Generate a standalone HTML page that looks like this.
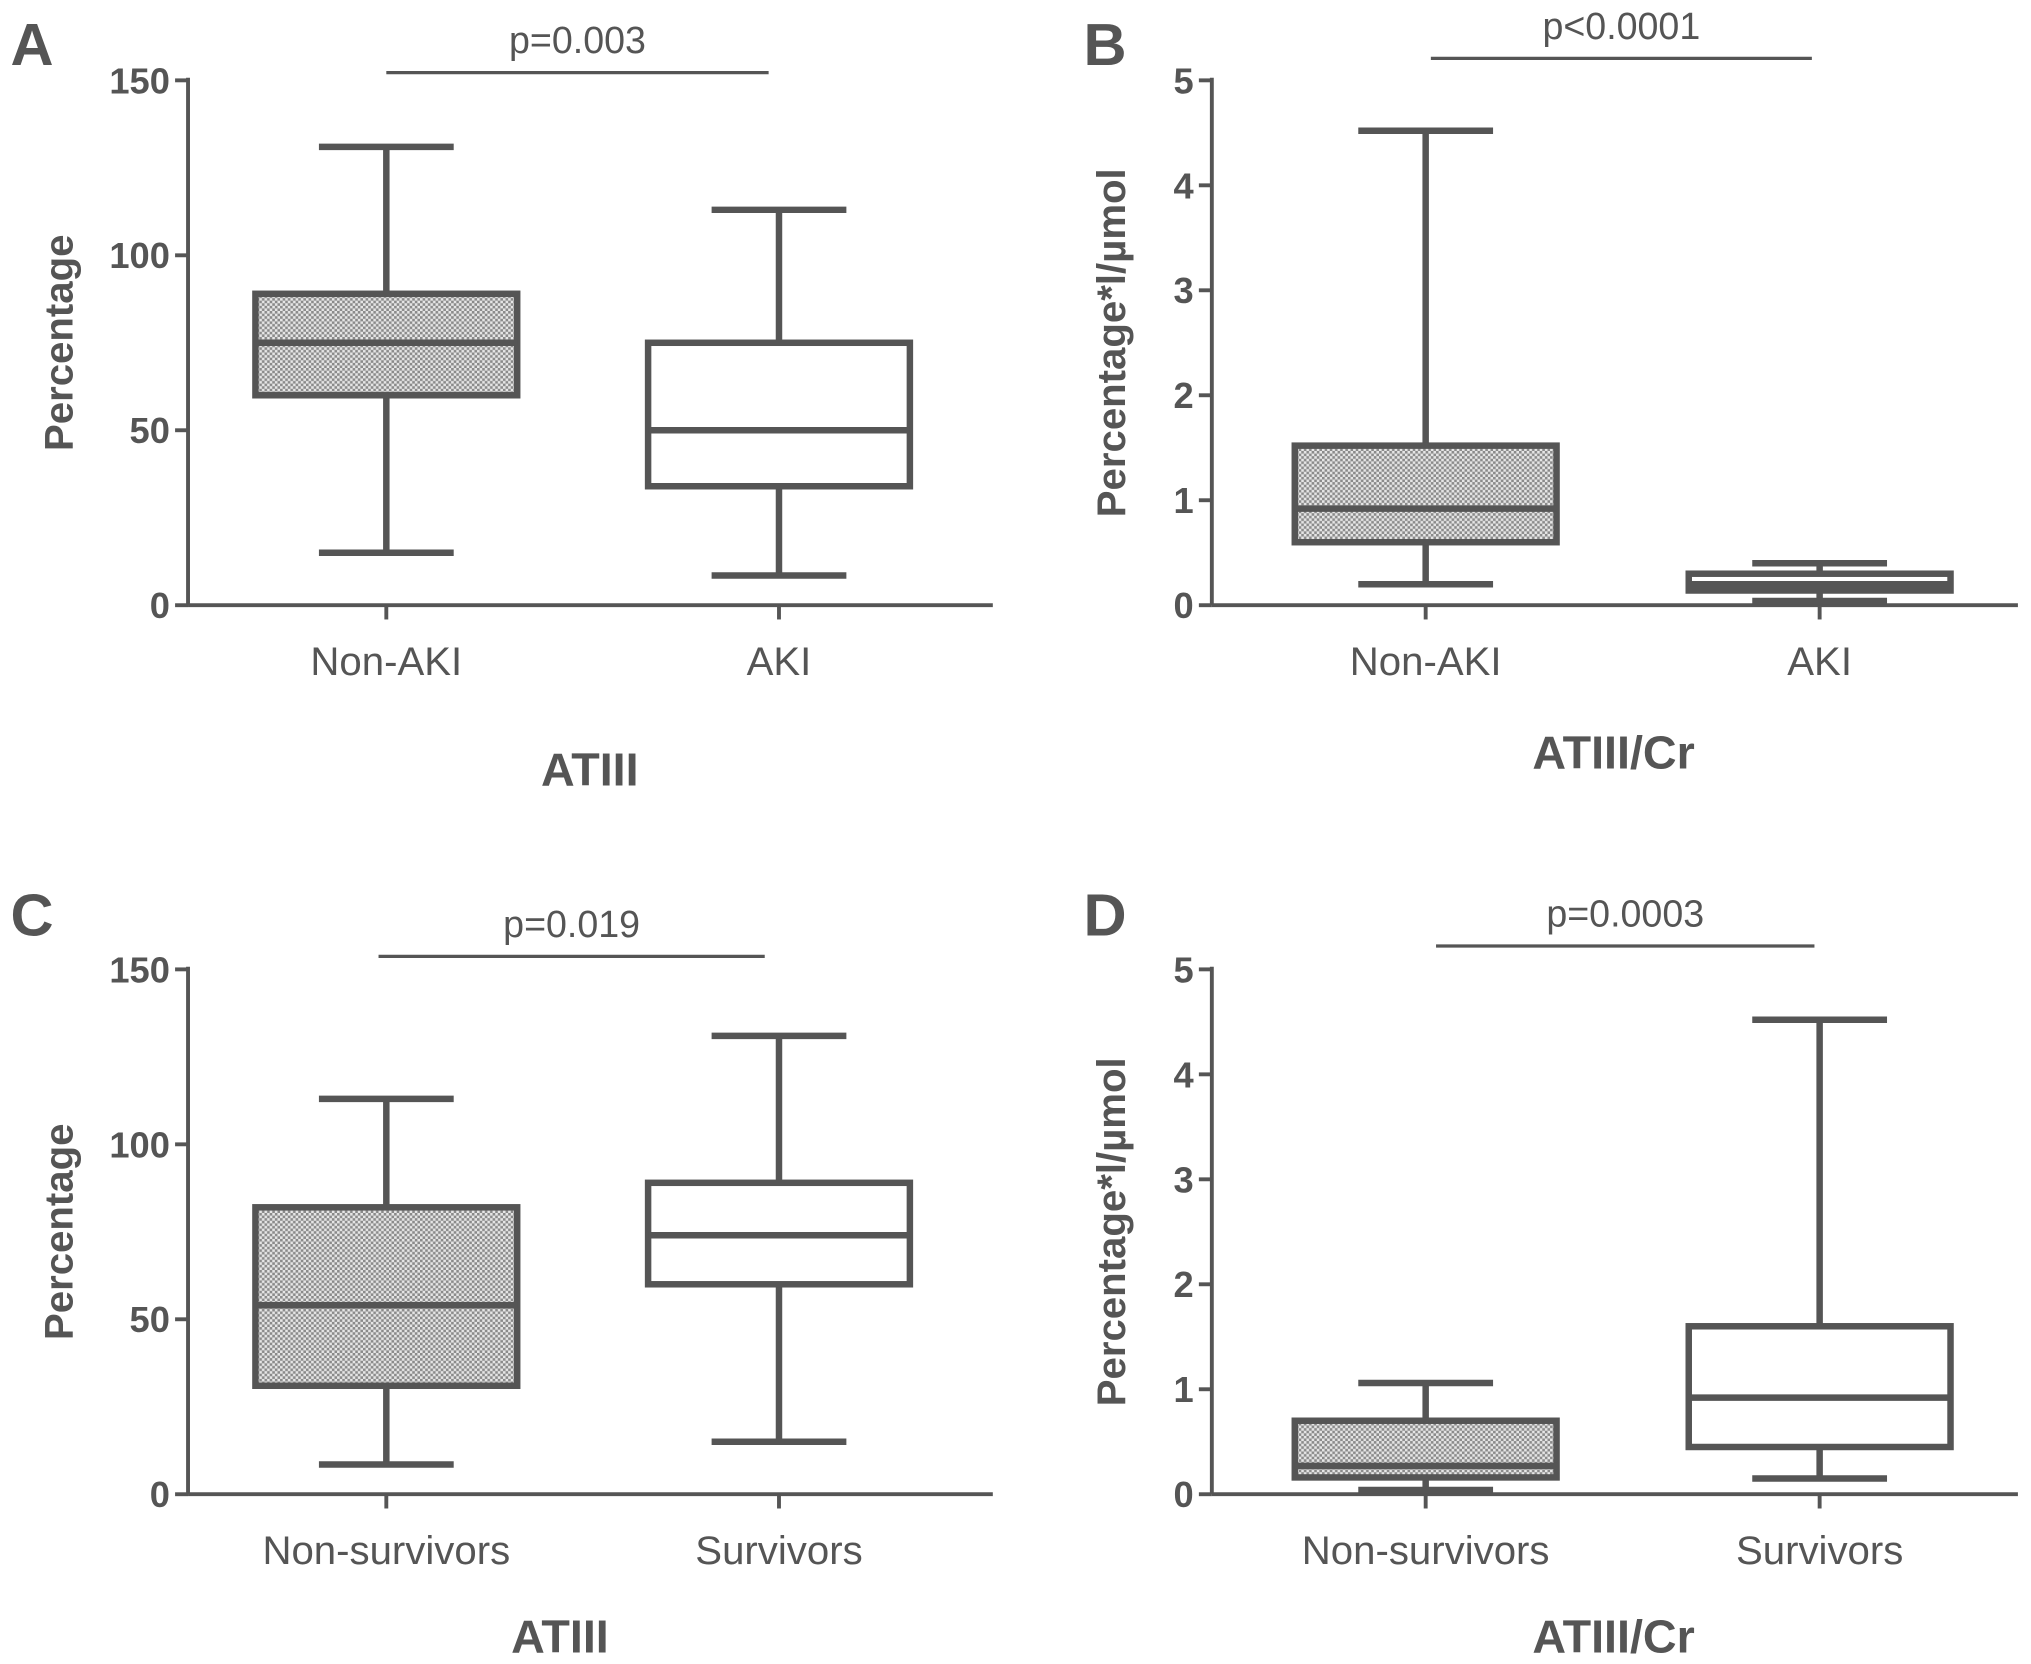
<!DOCTYPE html>
<html><head><meta charset="utf-8"><style>
html,body{margin:0;padding:0;background:#fff}
svg{display:block}
text{font-family:"Liberation Sans",sans-serif;fill:#555}
</style></head><body>
<svg id="fig" width="2031" height="1664" viewBox="0 0 1567 1284" xmlns="http://www.w3.org/2000/svg">
<defs>
<pattern id="dots" width="4" height="4" patternUnits="userSpaceOnUse">
<rect width="4" height="4" fill="#e6e6e6"/>
<rect x="0" y="0" width="2" height="2" fill="#8a8a8a"/>
<rect x="2" y="2" width="2" height="2" fill="#8a8a8a"/>
</pattern>
</defs>
</svg>
<script>
// Panel A: ATIII by AKI
const catsA = ["Non-AKI","AKI"];
const statsA = [[15,60,75,89,131],[8.5,34,50,75,113]];
const ticksA = [0,50,100,150];
// Panel B: ATIII/Cr by AKI
const catsB = ["Non-AKI","AKI"];
const statsB = [[0.2,0.6,0.92,1.52,4.52],[0.04,0.14,0.2,0.3,0.4]];
const ticksB = [0,1,2,3,4,5];
// Panel C: ATIII by survival
const catsC = ["Non-survivors","Survivors"];
const statsC = [[8.5,31,54,82,113],[15,60,74,89,131]];
const ticksC = [0,50,100,150];
// Panel D: ATIII/Cr by survival
const catsD = ["Non-survivors","Survivors"];
const statsD = [[0.04,0.16,0.27,0.7,1.06],[0.15,0.45,0.92,1.6,4.52]];
const ticksD = [0,1,2,3,4,5];
const pvals = ["p=0.003","p<0.0001","p=0.019","p=0.0003"];

const svg = document.getElementById('fig');
const NS = "http://www.w3.org/2000/svg";
const C = "#555";
function mk(tag, attrs, parent){
  const e = document.createElementNS(NS, tag);
  for (const k in attrs) e.setAttribute(k, attrs[k]);
  (parent||svg).appendChild(e);
  return e;
}
function panel(o){
  const g = mk('g', {});
  
  
  const ymax = o.ticks[o.ticks.length-1];
  const y = v => o.y0 - (v/ymax)*(o.y0 - o.yTop);
  const x = i => o.cx[i];
  const ya = mk('line', {x1:o.ax, y1:o.yTop-2, x2:o.ax, y2:o.y0, stroke:C, 'stroke-width':3}, g);
  
  
  const xa = mk('line', {x1:o.ax, y1:o.y0, x2:o.axEnd, y2:o.y0, stroke:C, 'stroke-width':3}, g);
  
  
  o.ticks.forEach(t => {
    mk('line', {x1:o.ax-10, y1:y(t), x2:o.ax, y2:y(t), stroke:C, 'stroke-width':3}, g);
    const tl = mk('text', {x:o.ax-14, y:y(t)+10, 'text-anchor':'end', 'font-size':28, 'font-weight':'bold'}, g);
    tl.textContent = t;
    
    
  });
  o.cats.forEach((c, i) => {
    mk('line', {x1:x(i), y1:o.y0, x2:x(i), y2:o.y0+11, stroke:C, 'stroke-width':3}, g);
    const cl = mk('text', {x:x(i), y:o.y0+54, 'text-anchor':'middle', 'font-size':31}, g);
    cl.textContent = c;
    
    
    const s = o.stats[i];
    const bg = mk('g', {}, g);
    
    
    const sw = 5;
    mk('line', {x1:x(i), y1:y(s[4]), x2:x(i), y2:y(s[3]), stroke:C, 'stroke-width':sw}, bg);
    mk('line', {x1:x(i), y1:y(s[1]), x2:x(i), y2:y(s[0]), stroke:C, 'stroke-width':sw}, bg);
    mk('line', {x1:x(i)-52, y1:y(s[4]), x2:x(i)+52, y2:y(s[4]), stroke:C, 'stroke-width':sw}, bg);
    mk('line', {x1:x(i)-52, y1:y(s[0]), x2:x(i)+52, y2:y(s[0]), stroke:C, 'stroke-width':sw}, bg);
    mk('rect', {x:x(i)-101, y:y(s[3]), width:202, height:y(s[1])-y(s[3]), fill: i===0 ? 'url(#dots)' : '#fff', stroke:C, 'stroke-width':sw}, bg);
    mk('line', {x1:x(i)-101, y1:y(s[2]), x2:x(i)+101, y2:y(s[2]), stroke:C, 'stroke-width':sw}, bg);
  });
  const yl = mk('text', {x:0, y:0, transform:`translate(${o.ylx},${(o.y0+o.yTop)/2}) rotate(-90)`, 'text-anchor':'middle', 'font-size':31, 'font-weight':'bold'}, g);
  yl.textContent = o.ylabel;
  
  
  const xt = mk('text', {x:o.titleX, y:o.titleY, 'text-anchor':'middle', 'font-size':36, 'font-weight':'bold'}, g);
  xt.textContent = o.title;
  
  
  const pl = mk('line', {x1:o.p[0], y1:o.p[2], x2:o.p[1], y2:o.p[2], stroke:C, 'stroke-width':2.5}, g);
  
  
  const pt = mk('text', {x:(o.p[0]+o.p[1])/2, y:o.p[2]-15, 'text-anchor':'middle', 'font-size':29}, g);
  pt.textContent = o.pv;
  
  
  const lt = mk('text', {x:o.lx, y:o.ly, 'font-size':46, 'font-weight':'bold'}, g);
  lt.textContent = o.letter;
  
  
}
panel({letter:'A', lx:8, ly:50, ax:145, axEnd:766, y0:467, yTop:62, cx:[298,601], cats:catsA, stats:statsA, ticks:ticksA, ylabel:'Percentage', ylx:56, title:'ATIII', titleX:455, titleY:606, p:[298,593,56], pv:pvals[0]});
panel({letter:'B', lx:836, ly:50, ax:935, axEnd:1557, y0:467, yTop:62, cx:[1100,1404], cats:catsB, stats:statsB, ticks:ticksB, ylabel:'Percentage*l/µmol', ylx:868, title:'ATIII/Cr', titleX:1245, titleY:593, p:[1104,1398,45], pv:pvals[1]});
panel({letter:'C', lx:8, ly:722, ax:145, axEnd:766, y0:1153, yTop:748, cx:[298,601], cats:catsC, stats:statsC, ticks:ticksC, ylabel:'Percentage', ylx:56, title:'ATIII', titleX:432, titleY:1275, p:[292,590,738], pv:pvals[2]});
panel({letter:'D', lx:836, ly:722, ax:935, axEnd:1557, y0:1153, yTop:748, cx:[1100,1404], cats:catsD, stats:statsD, ticks:ticksD, ylabel:'Percentage*l/µmol', ylx:868, title:'ATIII/Cr', titleX:1245, titleY:1275, p:[1108,1400,730], pv:pvals[3]});
</script>
</body></html>
